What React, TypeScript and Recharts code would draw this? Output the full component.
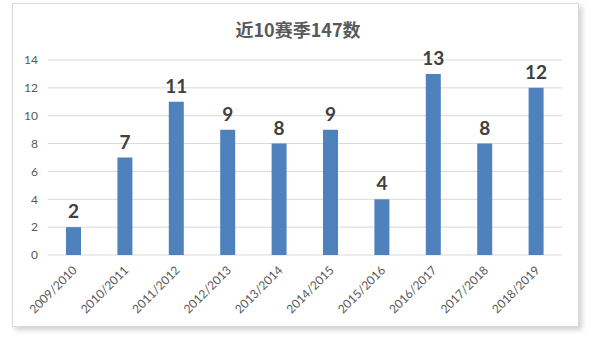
import { BarChart, Bar, XAxis, YAxis, CartesianGrid, LabelList } from 'recharts';

const seasons = ['2009/2010', '2010/2011', '2011/2012', '2012/2013', '2013/2014', '2014/2015', '2015/2016', '2016/2017', '2017/2018', '2018/2019'];
const centuries = [2, 7, 11, 9, 8, 9, 4, 13, 8, 12];
const yTicks = [0, 2, 4, 6, 8, 10, 12, 14];

const chartData = seasons.map((s, i) => ({ season: s, count: centuries[i] }));

const SeasonTick = (props: any) => {
  const { x, y, payload } = props;
  return (
    <g transform={`translate(${x + 4},${y + 8})`}>
      <text x={0} y={0} textAnchor="end" fill="#595959" fontSize={12} fontFamily="Lato, 'Noto Sans', sans-serif" transform="rotate(-45)">
        {payload.value}
      </text>
    </g>
  );
};

const App = () => {
  return (
    <div style={{ position: 'absolute', left: 0, top: 0, width: 596, height: 341, background: '#fff' }}>
      <div style={{ position: 'absolute', left: 12, top: 3, width: 565, height: 322, border: '1px solid #d9d9d9', boxShadow: '3px 3px 5px rgba(0,0,0,0.18)', background: '#fff' }} />
      <div style={{ position: 'absolute', left: 0, top: 16, width: 596, textAlign: 'center', fontSize: 18, fontWeight: 'bold', color: '#595959', fontFamily: "'Noto Sans CJK SC', sans-serif" }}>
        近10赛季147数
      </div>
      <div style={{ position: 'absolute', left: 0, top: 0 }}>
        <BarChart width={596} height={341} data={chartData} margin={{ top: 60, right: 34, left: 8, bottom: 0 }}>
          <CartesianGrid vertical={false} stroke="#d9d9d9" />
          <XAxis dataKey="season" axisLine={false} tickLine={false} interval={0} height={86} tick={<SeasonTick />} />
          <YAxis domain={[0, 14]} ticks={yTicks} axisLine={false} tickLine={false} width={40} tickMargin={4}
            tick={{ fill: '#595959', fontSize: 12, fontFamily: "Lato, 'Noto Sans', sans-serif" }} />
          <Bar dataKey="count" fill="#4f81bd" barSize={15} isAnimationActive={false}>
            <LabelList dataKey="count" position="top" offset={9} fill="#404040" fontSize={19} fontWeight="bold" fontFamily="Lato, 'Noto Sans', sans-serif" />
          </Bar>
        </BarChart>
      </div>
    </div>
  );
};

export default App;
